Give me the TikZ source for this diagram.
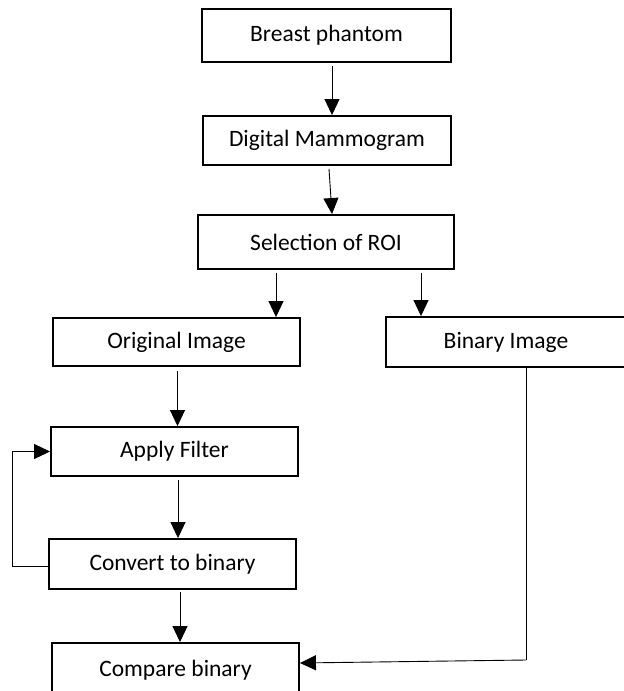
\documentclass[tikz,border=0pt]{standalone}
\usepackage{fontspec}
\setmainfont{Carlito}
\usetikzlibrary{arrows.meta,calc}
\begin{document}
\begin{tikzpicture}[x=1pt,y=-1pt,
  box/.style={draw,line width=1.9pt,rectangle,inner sep=0pt,font=\fontsize{23.5}{28}\selectfont},
  arr/.style={line width=0.9pt,-{Triangle[length=16pt,width=15pt]}},
  ln/.style={line width=0.9pt}]
\useasboundingbox (0,0) rectangle (624,691);
\clip (0,0) rectangle (624,691);
\node[box,minimum width=249pt,minimum height=53pt] (bp) at (326.5,35.5) {Breast phantom};
\node[box,minimum width=248pt,minimum height=49pt] (dm) at (327,140.5) {Digital Mammogram};
\node[box,minimum width=256pt,minimum height=54pt] (roi) at (326,242) {Selection of ROI};
\node[box,minimum width=247pt,minimum height=48pt] (orig) at (176.5,342) {Original Image};
\node[box,minimum width=240pt,minimum height=50pt] (bin) at (506,342) {Binary Image};
\node[box,minimum width=247pt,minimum height=49pt] (filt) at (174.5,451.5) {Apply Filter};
\node[box,minimum width=247pt,minimum height=50pt] (conv) at (172.5,564) {Convert to binary};
\node[box,minimum width=247pt,minimum height=54pt] (cmp) at (175.5,670) {Compare binary};
\coordinate (loopb) at (12,566);
\coordinate (loopt) at (12,451.5);
\coordinate (corner) at (526,660);
\draw[arr] ([xshift=5.5pt,yshift=-3pt]bp.south) -- ([xshift=5pt]dm.north);
\draw[arr] ([xshift=2pt,yshift=-3pt]dm.south) -- ([xshift=6pt]roi.north);
\draw[arr] ([xshift=-50pt,yshift=-3pt]roi.south) -- ([xshift=-50pt]roi.south |- orig.north);
\draw[arr] ([xshift=95pt,yshift=-3pt]roi.south) -- ([xshift=95pt]roi.south |- bin.north);
\draw[arr] ([xshift=1pt,yshift=-4pt]orig.south) -- ([xshift=1pt]orig.south |- filt.north);
\draw[arr] ([xshift=3.5pt,yshift=-3pt]filt.south) -- ([xshift=3.5pt]filt.south |- conv.north);
\draw[arr] ([xshift=7.5pt,yshift=-2pt]conv.south) -- ([xshift=7.5pt]conv.south |- cmp.north);
\draw[arr] ([yshift=-2pt]conv.west) -- (loopb) -- (loopt) -- (filt.west);
\draw[ln] ([xshift=20pt]bin.south) -- (corner);
\draw[arr] (corner) -- ([yshift=7pt]cmp.east);
\end{tikzpicture}
\end{document}
